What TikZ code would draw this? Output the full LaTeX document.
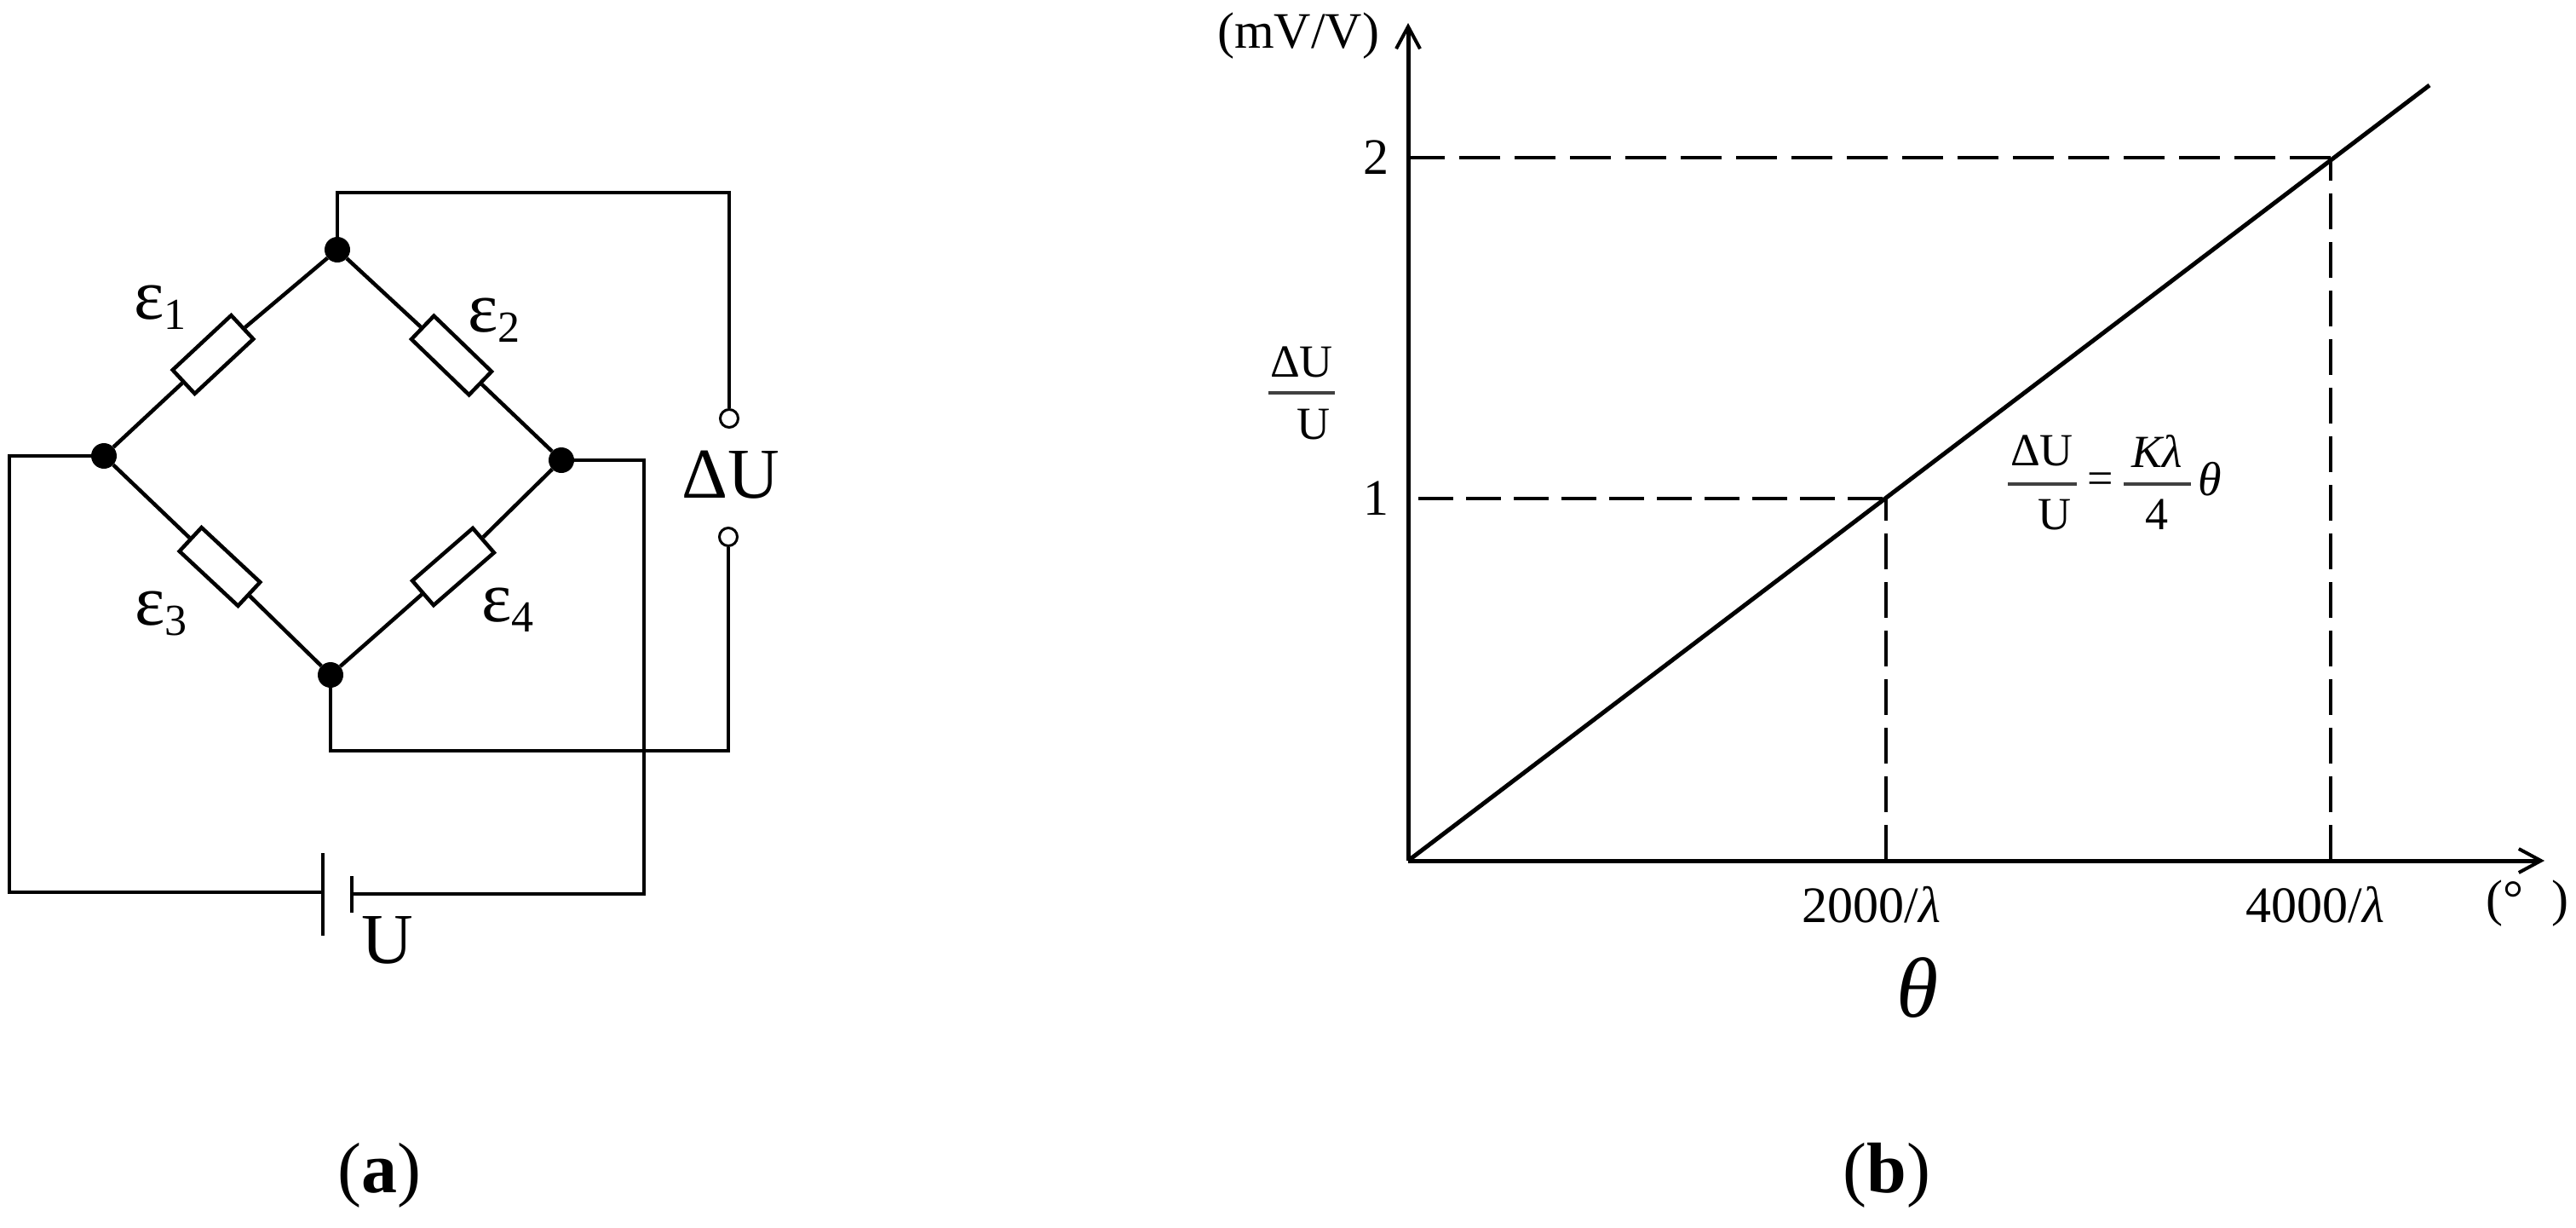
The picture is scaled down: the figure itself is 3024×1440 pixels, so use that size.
\documentclass[tikz,border=0pt]{standalone}
\usepackage{fontspec}
\setmainfont{Liberation Serif}
\usetikzlibrary{arrows.meta}
\newcommand{\sz}[1]{\fontsize{#1}{#1}\selectfont}
\newcommand{\strain}[1]{ε\raisebox{-12pt}{\sz{52}#1}}
\tikzset{
  wire/.style={line width=4.5pt,line join=miter,black},
  joint/.style={circle,fill=black,inner sep=0pt,minimum size=30pt},
  terminal/.style={circle,draw=black,line width=3pt,fill=white,inner sep=0pt,minimum size=21pt},
  resistor/.style={rectangle,draw=black,line width=4.5pt,fill=white,inner sep=0pt,minimum width=94pt,minimum height=38pt},
  lab/.style={inner sep=0pt,text=black},
  big/.style={lab,font=\sz{84}},
  tick/.style={lab,font=\sz{60}},
  eqn/.style={lab,font=\sz{54}},
  axis/.style={line width=5pt,black,-{Straight Barb[length=26pt,width=28pt,line width=4pt]}},
  guide/.style={line width=4.5pt,black},
  rule/.style={line width=3.5pt,black!75}
}
\begin{document}
\begin{tikzpicture}[x=1pt,y=-1pt]
\useasboundingbox (0,0) rectangle (3024,1440);
% (a) bridge
\node[joint] (top) at (396,293) {};
\node[joint] (left) at (122,535) {};
\node[joint] (right) at (659,540) {};
\node[joint] (bot) at (388,792) {};
\node[terminal] (t1) at (856,491) {};
\node[terminal] (t2) at (855,630) {};
\node[resistor,rotate=43] (r1) at (250,416) {};
\node[resistor,rotate=-44] (r2) at (530,417) {};
\node[resistor,rotate=-43] (r3) at (258,665) {};
\node[resistor,rotate=41] (r4) at (532,665) {};
\draw[wire] (top) -- (r1) (r1) -- (left);
\draw[wire] (top) -- (r2) (r2) -- (right);
\draw[wire] (left) -- (r3) (r3) -- (bot);
\draw[wire] (right) -- (r4) (r4) -- (bot);
\coordinate (c1) at (856,226);
\coordinate (c2) at (855,881);
\coordinate (c3) at (11,535);
\coordinate (c4) at (11,1047);
\coordinate (c5) at (756,540);
\coordinate (c6) at (756,1049);
\coordinate (p1a) at (379,1001);
\coordinate (p1b) at (379,1098);
\coordinate (p1m) at (379,1047);
\coordinate (p2a) at (413,1028);
\coordinate (p2b) at (413,1071);
\coordinate (p2m) at (413,1049);
\draw[wire] (top) |- (c1) -- (t1);
\draw[wire] (t2) -- (c2) -| (bot);
\draw[wire] (left) -- (c3) -- (c4) -- (p1m);
\draw[wire] (right) -- (c5) -- (c6) -- (p2m);
\draw[wire] (p1a) -- (p1b);
\draw[wire] (p2a) -- (p2b);
\node[big] (e1) at (188,361) {\strain{1}};
\node[big] (e2) at (580,376) {\strain{2}};
\node[big] (e3) at (189,720) {\strain{3}};
\node[big] (e4) at (596,716) {\strain{4}};
\node[big] (du) at (858,557) {ΔU};
\node[big] (u) at (455,1103) {U};
\node[big] (capa) at (445,1379) {(\textbf{a})};
% (b) graph
\coordinate (o) at (1653,1010);
\coordinate (ytip) at (1653,27);
\coordinate (xtip) at (2987,1010);
\coordinate (lineend) at (2852,100);
\coordinate (y1) at (1665,585);
\coordinate (y2) at (1653,185);
\coordinate (p1) at (2214,585);
\coordinate (p2) at (2736,185);
\coordinate (x1) at (2214,1010);
\coordinate (x2) at (2736,1010);
\draw[guide,dash pattern=on 48pt off 17pt] (p2) -- (y2);
\draw[guide,dash pattern=on 41pt off 15pt] (y1) -- (p1);
\draw[guide,dash pattern=on 42pt off 15pt] (x1) -- (p1);
\draw[guide,dash pattern=on 42pt off 15pt] (x2) -- (p2);
\draw[axis] (o) -- (ytip);
\draw[axis] (o) -- (xtip);
\draw[line width=5pt,black] (o) -- (lineend);
\node[tick] (unit1) at (1524,42) {(mV/V)};
\node[tick] (two) at (1615,185) {2};
\node[tick] (one) at (1615,585) {1};
\node[eqn] (fa) at (1528,425) {ΔU};
\coordinate (fb1) at (1489,461);
\coordinate (fb2) at (1567,461);
\draw[rule] (fb1) -- (fb2);
\node[eqn] (fc) at (1542,498) {U};
\node[tick] (l1) at (2197,1062) {2000/\textit{λ}};
\node[tick] (l2) at (2718,1062) {4000/\textit{λ}};
\node[tick] (unit2) at (2967,1060) {(°\hspace{33pt})};
\node[lab,font=\sz{100}\itshape] (theta) at (2251,1159) {θ};
\node[eqn] (n1) at (2397,529) {ΔU};
\coordinate (b1a) at (2357,568);
\coordinate (b1b) at (2438,568);
\draw[rule] (b1a) -- (b1b);
\node[eqn] (d1) at (2412,604) {U};
\node[eqn] (eq) at (2466,567) {=};
\node[eqn] (n2) at (2532,529) {\textit{Kλ}};
\coordinate (b2a) at (2493,568);
\coordinate (b2b) at (2572,568);
\draw[rule] (b2a) -- (b2b);
\node[eqn] (d2) at (2532,604) {4};
\node[eqn,font=\sz{56}\itshape] (th2) at (2594,562) {θ};
\node[big] (capb) at (2215,1379) {(\textbf{b})};
\end{tikzpicture}
\end{document}
